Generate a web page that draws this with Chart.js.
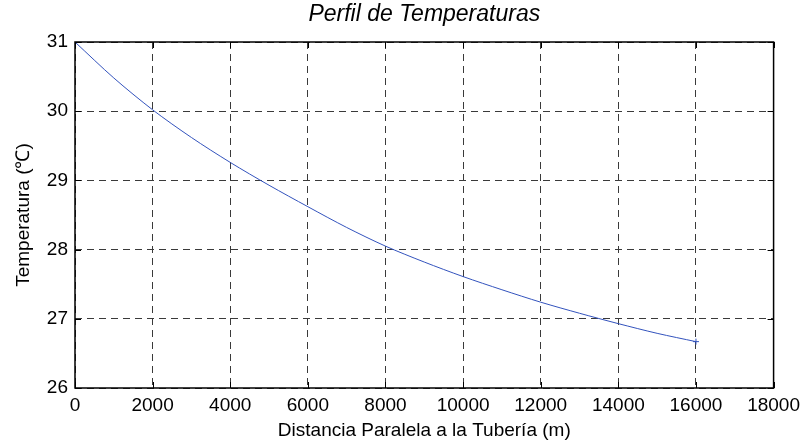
<!DOCTYPE html>
<html>
<head>
<meta charset="utf-8">
<script src="https://cdn.jsdelivr.net/npm/chart.js@4"></script>
<style>
  html, body { margin: 0; padding: 0; background: #fff; }
  #wrap { width: 806px; height: 448px; }
</style>
</head>
<body>
<div id="wrap"><canvas id="tempChart"></canvas></div>
<script>
// distance along the pipe (m) and temperature
const distances = [0, 1000, 2000, 3000, 4000, 5000, 6000, 7000, 8000,
                   9000, 10000, 11000, 12000, 13000, 14000, 15000, 16000];
const temperatures = [31.00, 30.48, 30.02, 29.62, 29.26, 28.93, 28.62, 28.32, 28.05,
                      27.82, 27.61, 27.42, 27.24, 27.08, 26.93, 26.79, 26.67];
const xTicks = [0, 2000, 4000, 6000, 8000, 10000, 12000, 14000, 16000, 18000];
const yTicks = [26, 27, 28, 29, 30, 31];

const FONT = '"Liberation Sans", Arial, sans-serif';

// box round the plot + small inward ticks (matlab style)
const frame = {
  id: 'frame',
  afterDraw(chart) {
    const { ctx, chartArea: a, scales } = chart;
    ctx.save();
    ctx.strokeStyle = '#000';
    ctx.lineWidth = 1;
    xTicks.forEach(v => {
      const px = Math.round(scales.x.getPixelForValue(v)) + 0.5;
      ctx.beginPath();
      ctx.moveTo(px, a.bottom); ctx.lineTo(px, a.bottom - 6);
      ctx.moveTo(px, a.top); ctx.lineTo(px, a.top + 6);
      ctx.stroke();
    });
    yTicks.forEach(v => {
      const py = Math.round(scales.y.getPixelForValue(v)) + 0.5;
      ctx.beginPath();
      ctx.moveTo(a.left, py); ctx.lineTo(a.left + 6, py);
      ctx.moveTo(a.right, py); ctx.lineTo(a.right - 6, py);
      ctx.stroke();
    });
    ctx.lineWidth = 1.5;
    ctx.strokeRect(a.left, a.top, a.right - a.left, a.bottom - a.top);
    ctx.restore();
  }
};

const ctx = document.getElementById('tempChart').getContext('2d');
new Chart(ctx, {
  type: 'line',
  data: {
    datasets: [{
      data: distances.map((d, i) => ({ x: d, y: temperatures[i] })),
      borderColor: '#3353bd',
      borderWidth: 1,
      fill: false,
      tension: 0.3,
      pointStyle: 'cross',
      pointRadius: c => (c.dataIndex === distances.length - 1 ? 3 : 0),
      pointBorderColor: '#3353bd',
      pointBorderWidth: 1
    }]
  },
  options: {
    responsive: true,
    maintainAspectRatio: false,
    animation: false,
    layout: { padding: { left: 0, right: 31, top: 0, bottom: 0 } },
    plugins: {
      legend: { display: false },
      tooltip: { enabled: false },
      title: {
        display: true,
        fullSize: false, // centre over the plot, not the canvas
        text: 'Perfil de Temperaturas',
        color: '#000',
        font: { family: FONT, size: 23, style: 'italic', weight: 'normal' },
        padding: { top: 1, bottom: 13.4 }
      }
    },
    scales: {
      x: {
        type: 'linear',
        min: 0,
        max: 18000,
        afterBuildTicks: s => { s.ticks = xTicks.map(v => ({ value: v })); },
        afterFit: s => { s.height = 60; },
        border: { display: false, dash: [7, 5] },
        grid: { color: '#3a3a3a', lineWidth: 1, drawTicks: false },
        ticks: {
          color: '#000',
          font: { family: FONT, size: 19 },
          padding: 6,
          maxRotation: 0,
          callback: v => String(v)
        },
        title: {
          display: true,
          text: 'Distancia Paralela a la Tubería (m)',
          color: '#000',
          font: { family: FONT, size: 19 },
          padding: { top: 0, bottom: 6 }
        }
      },
      y: {
        min: 26,
        max: 31,
        afterBuildTicks: s => { s.ticks = yTicks.map(v => ({ value: v })); },
        afterFit: s => { s.width = 75; },
        border: { display: false, dash: [7, 5] },
        grid: { color: '#3a3a3a', lineWidth: 1, drawTicks: false },
        ticks: {
          color: '#000',
          font: { family: FONT, size: 19 },
          padding: 7,
          callback: v => String(v)
        },
        title: {
          display: true,
          text: 'Temperatura (℃)',
          color: '#000',
          font: { family: FONT, size: 19 },
          padding: { top: 12, bottom: 0 }
        }
      }
    }
  },
  plugins: [frame]
});
</script>
</body>
</html>
